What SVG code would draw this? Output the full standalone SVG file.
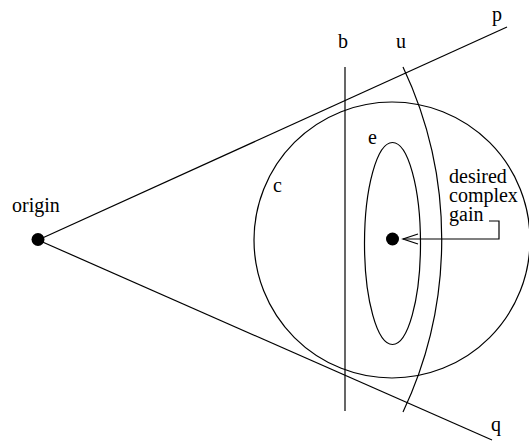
<svg xmlns="http://www.w3.org/2000/svg" width="529" height="444" viewBox="0 0 529 444">
<style>
.ln{fill:none;stroke:#000;stroke-width:1.2}
text{font-family:'Liberation Serif','DejaVu Serif',serif;font-size:20px;fill:#000}
.dot{fill:#000}
</style>
<rect width="529" height="444" fill="#fff"/>
<g id="lines">
<line class="ln" x1="38" y1="240" x2="507" y2="27"/>
<line class="ln" x1="38" y1="240" x2="492" y2="440"/>
</g>
<g id="circle-c">
<circle class="ln" cx="392" cy="240" r="138"/>
<text x="273" y="192" font-family="Liberation Serif, serif">c</text>
</g>
<g id="ellipse-e">
<ellipse class="ln" cx="392.5" cy="243.5" rx="28" ry="101"/>
<text x="368" y="144" font-family="Liberation Serif, serif">e</text>
</g>
<g id="line-b">
<line class="ln" x1="345" y1="67" x2="345" y2="411"/>
<text x="338" y="48" font-family="Liberation Serif, serif">b</text>
</g>
<g id="arc-u">
<path class="ln" d="M403 67 A403.5 403.5 0 0 1 403 412"/>
<text x="396" y="48" font-family="Liberation Serif, serif">u</text>
</g>
<g id="label-p"><text x="492" y="21" font-family="Liberation Serif, serif">p</text></g>
<g id="label-q"><text x="491" y="431" font-family="Liberation Serif, serif">q</text></g>
<g id="origin">
<circle class="dot" cx="38" cy="239.5" r="6.5"/>
<text x="12" y="212" font-family="Liberation Serif, serif">origin</text>
</g>
<g id="gain-point">
<circle class="dot" cx="392.5" cy="239" r="6.5"/>
</g>
<g id="gain-label">
<text x="449" y="183" font-family="Liberation Serif, serif">desired</text>
<text x="449" y="201.5" font-family="Liberation Serif, serif">complex</text>
<text x="449" y="221" font-family="Liberation Serif, serif">gain</text>
</g>
<g id="connectors">
<path class="ln" d="M489 221 H499 V239 H403"/>
<path class="ln" d="M418 234 L403 239 L418 244"/>
</g>
</svg>
